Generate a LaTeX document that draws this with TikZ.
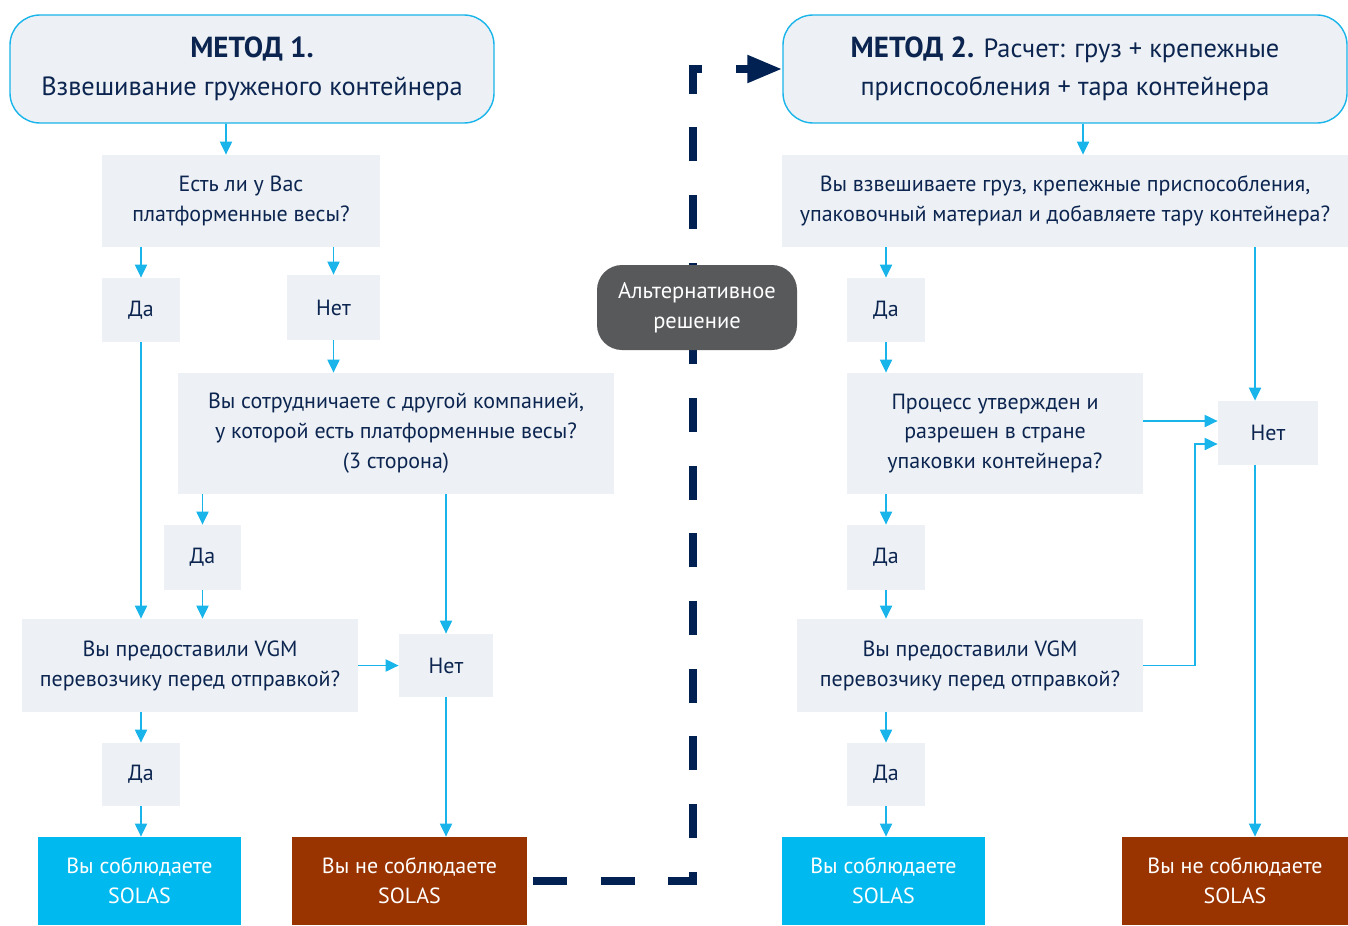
\documentclass[tikz,border=0pt]{standalone}
\usepackage{fontspec}
\setmainfont{PT Sans}
\usetikzlibrary{arrows.meta,positioning}
\definecolor{boxgrey}{HTML}{EDF1F5}
\definecolor{navytext}{HTML}{0C2550}
\definecolor{linecyan}{HTML}{18B4EA}
\definecolor{okcyan}{HTML}{00BAEF}
\definecolor{nobrown}{HTML}{993300}
\definecolor{altgrey}{HTML}{58595B}
\definecolor{altnavy}{HTML}{002152}

\begin{document}
\begin{tikzpicture}[
    q/.style={fill=boxgrey,text=navytext,align=center,inner sep=0pt,font=\fontsize{12.5}{17}\selectfont},
    ans/.style={q,minimum width=1.56cm,minimum height=1.28cm},
    head/.style={draw=linecyan,fill=boxgrey,line width=0.8pt,rounded corners=0.6cm,text=navytext,
      align=center,inner sep=0pt,minimum height=2.16cm,font=\fontsize{15}{21.5}\selectfont},
    res/.style={text=white,align=center,inner sep=0pt,minimum height=1.76cm,font=\fontsize{12.5}{17}\selectfont},
    arr/.style={draw=linecyan,line width=1.1pt,-{Triangle[length=0.26cm,width=0.24cm]}},
    altline/.style={draw=altnavy,line width=0.16cm,dash pattern=on 0.68cm off 0.6733cm,dash phase=1.24cm,
      -{Triangle[length=0.7cm,width=0.52cm]}}]
  \useasboundingbox (0,0) rectangle (26.96,-18.5);
  % method 1
  \node[head,minimum width=9.68cm] (M1) at (5.04,-1.38)
    {\textbf{\fontsize{16.5}{21.5}\selectfont МЕТОД 1.}\\Взвешивание груженого контейнера};
  \node[q,minimum width=5.56cm,minimum height=1.84cm] (Q1) at (4.82,-4.02) {Есть ли у Вас\\платформенные весы?};
  \node[ans] (Da1) at (2.82,-6.2) {Да};
  \node[ans,minimum width=1.86cm,minimum height=1.3cm] (Net1) at (6.67,-6.15) {Нет};
  \node[q,minimum width=8.72cm,minimum height=2.42cm] (Q2) at (7.92,-8.67)
    {Вы сотрудничаете с другой компанией,\\у которой есть платформенные весы?\\(3 сторона)};
  \node[ans,minimum width=1.54cm,minimum height=1.3cm] (Da2) at (4.05,-11.15) {Да};
  \node[q,minimum width=6.72cm,minimum height=1.86cm] (Q3) at (3.8,-13.31)
    {Вы предоставили VGM\\перевозчику перед отправкой?};
  \node[ans,minimum width=1.88cm,minimum height=1.26cm] (Net2) at (8.92,-13.31) {Нет};
  \node[ans,minimum height=1.26cm] (Da3) at (2.82,-15.49) {Да};
  \node[res,fill=okcyan,minimum width=4.06cm] (G1) at (2.79,-17.62) {Вы соблюдаете\\SOLAS};
  \node[res,fill=nobrown,minimum width=4.7cm] (R1) at (8.19,-17.62) {Вы не соблюдаете\\SOLAS};
  % method 2
  \node[head,minimum width=11.28cm] (M2) at (21.3,-1.38)
    {\textbf{\fontsize{16.5}{21.5}\selectfont МЕТОД 2.} Расчет: груз + крепежные\\приспособления + тара контейнера};
  \node[q,minimum width=11.32cm,minimum height=1.84cm] (Q4) at (21.3,-4.02)
    {Вы взвешиваете груз, крепежные приспособления,\\упаковочный материал и добавляете тару контейнера?};
  \node[ans] (Da4) at (17.72,-6.2) {Да};
  \node[q,minimum width=5.92cm,minimum height=2.42cm] (Q5) at (19.9,-8.67)
    {Процесс утвержден и\\разрешен в стране\\упаковки контейнера?};
  \node[ans,minimum width=2cm] (Net3) at (25.36,-8.66) {Нет};
  \node[ans,minimum height=1.3cm] (Da5) at (17.72,-11.15) {Да};
  \node[q,minimum width=6.92cm,minimum height=1.86cm] (Q6) at (19.4,-13.31)
    {Вы предоставили VGM\\перевозчику перед отправкой?};
  \node[ans,minimum height=1.26cm] (Da6) at (17.72,-15.49) {Да};
  \node[res,fill=okcyan,minimum width=4.06cm] (G2) at (17.67,-17.62) {Вы соблюдаете\\SOLAS};
  \node[res,fill=nobrown,minimum width=4.52cm] (R2) at (24.7,-17.62) {Вы не соблюдаете\\SOLAS};
  % alternative path
  \coordinate (bendT) at (13.86,-1.38);
  \draw[altline] (R1.east) -| (bendT) -- (M2.west);
  \node[fill=altgrey,text=white,rounded corners=0.5cm,align=center,inner sep=0pt,minimum width=4cm,
    minimum height=1.7cm,font=\fontsize{12.8}{17}\selectfont] (Alt) at (13.94,-6.15) {Альтернативное\\решение};
  % connectors
  \draw[arr] ([xshift=-0.52cm]M1.south) -- ([xshift=-0.3cm]Q1.north);
  \draw[arr] ([xshift=0.36cm]M2.south) -- ([xshift=0.36cm]Q4.north);
  \foreach \a/\b in {Q1/Da1,Q1/Net1,Q2/Da2,Q2/Net2,Q3/Da3,Q4/Da4,Q5/Da5,Q6/Da6}
    \draw[arr] (\b.north |- \a.south) -- (\b.north);
  \foreach \a/\b in {Net1/Q2,Da1/Q3,Da2/Q3,Da3/G1,Net2/R1,Da4/Q5,Da5/Q6,Da6/G2}
    \draw[arr] (\a.south) -- (\a.south |- \b.north);
  \draw[arr] (Q3.east) -- (Net2.west);
  \coordinate (n3in) at ([xshift=-0.26cm]Net3.north);
  \coordinate (n3out) at ([xshift=-0.26cm]Net3.south);
  \coordinate (n3a) at ([yshift=0.24cm]Net3.west);
  \coordinate (n3b) at ([yshift=-0.22cm]Net3.west);
  \draw[arr] (n3in |- Q4.south) -- (n3in);
  \draw[arr] (Q5.east |- n3a) -- (n3a);
  \draw[arr] (Q6.east) -- ++(1.04,0) |- (n3b);
  \draw[arr] (n3out) -- (n3out |- R2.north);
\end{tikzpicture}
\end{document}
